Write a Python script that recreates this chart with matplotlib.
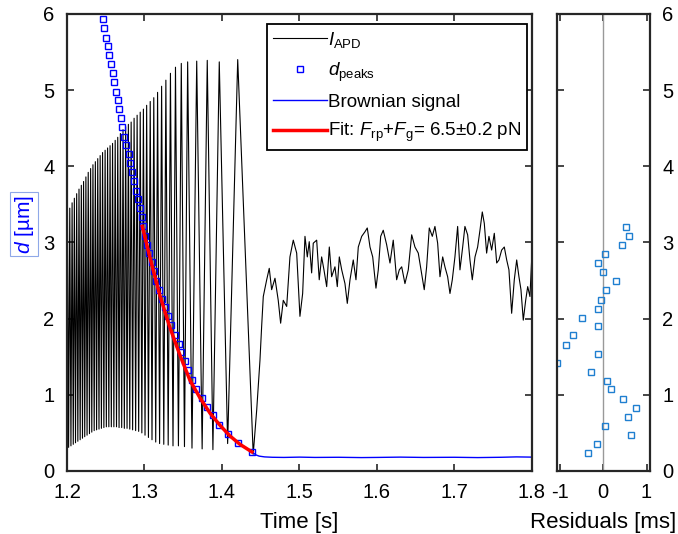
import numpy as np
import matplotlib
matplotlib.use("Agg")
import matplotlib.pyplot as plt

plt.rcParams['font.family'] = ['Liberation Sans', 'DejaVu Sans']
plt.rcParams['mathtext.fontset'] = 'custom'
plt.rcParams['mathtext.rm'] = 'Liberation Sans'
plt.rcParams['mathtext.it'] = 'Liberation Sans:italic'
plt.rcParams['axes.unicode_minus'] = False

# --- I_APD fringe extremes (time [s], signal) ---
peak_t = [1.2006, 1.2036, 1.2066, 1.2095, 1.2125, 1.2155, 1.2185, 1.2214, 1.2244, 1.2274,
          1.2305, 1.2335, 1.2366, 1.2397, 1.2428, 1.2459, 1.2492, 1.2524, 1.2556, 1.2588,
          1.2622, 1.2655, 1.2689, 1.2723, 1.2757, 1.2792, 1.2828, 1.2866, 1.2905, 1.2945,
          1.2986, 1.3028, 1.3074, 1.3120, 1.3169, 1.3221, 1.3276, 1.3335, 1.3400, 1.3475,
          1.3557, 1.3674, 1.3810, 1.3965, 1.4203]
peak_v = [3.39, 3.45, 3.52, 3.58, 3.64, 3.70, 3.75, 3.80, 3.86, 3.92,
          3.97, 4.02, 4.06, 4.10, 4.14, 4.18, 4.21, 4.24, 4.27, 4.30,
          4.34, 4.38, 4.43, 4.48, 4.52, 4.55, 4.58, 4.63, 4.67, 4.71,
          4.75, 4.80, 4.85, 4.90, 4.97, 5.05, 5.13, 5.22, 5.30, 5.35,
          5.37, 5.38, 5.39, 5.37, 5.40]
trough_t = [1.1991, 1.2021, 1.2051, 1.2081, 1.2110, 1.2140, 1.2170, 1.2200, 1.2229, 1.2259,
            1.2290, 1.2320, 1.2351, 1.2382, 1.2413, 1.2444, 1.2476, 1.2508, 1.2540, 1.2572,
            1.2605, 1.2639, 1.2672, 1.2706, 1.2740, 1.2775, 1.2810, 1.2847, 1.2886, 1.2925,
            1.2966, 1.3007, 1.3051, 1.3097, 1.3145, 1.3195, 1.3249, 1.3306, 1.3368, 1.3438,
            1.3516, 1.3613, 1.3744, 1.3883, 1.4073, 1.4403]
trough_v = [0.30, 0.31, 0.33, 0.35, 0.37, 0.39, 0.41, 0.43, 0.45, 0.47,
            0.49, 0.51, 0.53, 0.54, 0.55, 0.56, 0.57, 0.58, 0.58, 0.58,
            0.58, 0.58, 0.57, 0.57, 0.56, 0.56, 0.55, 0.54, 0.53, 0.52,
            0.50, 0.47, 0.44, 0.41, 0.38, 0.36, 0.35, 0.34, 0.33, 0.33,
            0.32, 0.30, 0.29, 0.28, 0.36, 0.22]

# --- I_APD after release (Brownian part) ---
free_t = [1.4448, 1.4490, 1.4512, 1.4533, 1.4577, 1.4610, 1.4641, 1.4684, 1.4726, 1.4757,
          1.4791, 1.4835, 1.4877, 1.4920, 1.4964, 1.5006, 1.5041, 1.5071, 1.5101, 1.5126,
          1.5157, 1.5178, 1.5222, 1.5255, 1.5286, 1.5316, 1.5351, 1.5385, 1.5415, 1.5458,
          1.5488, 1.5514, 1.5545, 1.5587, 1.5617, 1.5652, 1.5694, 1.5729, 1.5759, 1.5803,
          1.5845, 1.5875, 1.5910, 1.5945, 1.5987, 1.6017, 1.6048, 1.6081, 1.6125, 1.6168,
          1.6210, 1.6254, 1.6288, 1.6319, 1.6361, 1.6404, 1.6448, 1.6490, 1.6533, 1.6568,
          1.6610, 1.6641, 1.6675, 1.6714, 1.6748, 1.6783, 1.6813, 1.6848, 1.6877, 1.6912,
          1.6942, 1.6972, 1.7006, 1.7041, 1.7071, 1.7106, 1.7135, 1.7170, 1.7200, 1.7230,
          1.7265, 1.7299, 1.7329, 1.7359, 1.7385, 1.7415, 1.7445, 1.7480, 1.7514, 1.7545,
          1.7574, 1.7609, 1.7643, 1.7674, 1.7703, 1.7738, 1.7772, 1.7803, 1.7832, 1.7858,
          1.7888, 1.7919, 1.7945, 1.7974, 1.7996, 1.8000]
free_v = [0.80, 1.45, 1.90, 2.29, 2.51, 2.66, 2.38, 2.53, 2.24, 1.94,
          2.24, 2.16, 2.81, 3.03, 2.86, 2.03, 2.33, 3.08, 2.81, 3.01,
          2.60, 2.99, 3.03, 2.51, 2.81, 2.64, 2.42, 2.94, 2.55, 2.68,
          2.42, 2.81, 2.64, 2.46, 2.20, 2.51, 2.77, 2.51, 2.94, 3.08,
          3.14, 3.19, 2.94, 2.81, 2.40, 2.64, 3.08, 3.16, 2.97, 2.73,
          3.03, 2.51, 2.64, 2.68, 2.46, 2.64, 3.10, 2.94, 2.86, 2.64,
          2.38, 2.68, 3.19, 3.08, 3.21, 2.99, 2.55, 2.81, 2.68, 2.55,
          2.33, 2.51, 2.81, 3.21, 2.64, 2.94, 3.21, 3.10, 2.77, 2.51,
          2.81, 2.94, 3.16, 3.40, 3.25, 2.86, 3.08, 2.90, 3.12, 2.73,
          2.77, 2.90, 2.94, 2.77, 2.64, 2.07, 2.51, 2.77, 2.55, 2.38,
          1.98, 2.24, 2.42, 2.29, 2.77, 2.81]

# --- d_peaks (time [s], distance [um]) ---
dpk_t = [1.2461, 1.2481, 1.2503, 1.2525, 1.2546, 1.2568, 1.2590, 1.2610, 1.2632, 1.2654,
         1.2675, 1.2693, 1.2714, 1.2735, 1.2757, 1.2797, 1.2819, 1.2843, 1.2862, 1.2889,
         1.2917, 1.2939, 1.2963, 1.2983, 1.3009, 1.3036, 1.3062, 1.3093, 1.3123, 1.3155,
         1.3187, 1.3222, 1.3262, 1.3303, 1.3348, 1.3394, 1.3439, 1.3477, 1.3523, 1.3561,
         1.3613, 1.3668, 1.3738, 1.3812, 1.3884, 1.3959, 1.4077, 1.4206, 1.4387]
dpk_d = [5.93, 5.81, 5.69, 5.58, 5.46, 5.34, 5.22, 5.10, 4.98, 4.87,
         4.75, 4.63, 4.51, 4.39, 4.28, 4.16, 4.04, 3.92, 3.80, 3.68,
         3.57, 3.45, 3.33, 3.21, 3.09, 2.97, 2.86, 2.74, 2.62, 2.50,
         2.38, 2.26, 2.15, 2.03, 1.91, 1.79, 1.67, 1.56, 1.44, 1.32,
         1.20, 1.08, 0.96, 0.84, 0.73, 0.61, 0.49, 0.37, 0.25]

# --- Brownian signal (blue) ---
brown_t = [1.4387, 1.4440, 1.4480, 1.4550, 1.4650, 1.4800, 1.5000, 1.5200, 1.5500,
           1.5800, 1.6000, 1.6300, 1.6600, 1.7000, 1.7300, 1.7600, 1.7800, 1.8000]
brown_d = [0.25, 0.21, 0.195, 0.185, 0.18, 0.178, 0.182, 0.178, 0.18,
           0.176, 0.178, 0.182, 0.178, 0.18, 0.176, 0.18, 0.185, 0.182]

# --- Fit curve ---
fit_t = [1.2972, 1.3071, 1.3200, 1.3329, 1.3458, 1.3587, 1.3716, 1.3845, 1.3974,
         1.4103, 1.4232, 1.4387]
fit_d = [3.21, 2.80, 2.30, 1.88, 1.52, 1.19, 0.96, 0.76, 0.60, 0.46, 0.35, 0.25]

# --- Residuals [ms] vs distance [um] ---
res_r = [0.52, 0.59, 0.44, 0.05, -0.12, 0.01, 0.30, 0.07, -0.05, -0.12,
         -0.48, -0.12, -0.68, -0.85, -1.05, -0.12, -0.27, 0.09, 0.18, 0.46,
         0.75, 0.57, 0.04, 0.64, -0.13, -0.35]
res_d = [3.20, 3.09, 2.97, 2.85, 2.73, 2.61, 2.49, 2.37, 2.25, 2.13,
         2.01, 1.90, 1.78, 1.66, 1.42, 1.54, 1.30, 1.18, 1.07, 0.94,
         0.83, 0.71, 0.59, 0.47, 0.35, 0.23]

# assemble the APD trace
ext_t = np.array(peak_t + trough_t)
ext_v = np.array(peak_v + trough_v)
order = np.argsort(ext_t)
apd_t = np.concatenate([ext_t[order], free_t])
apd_v = np.concatenate([ext_v[order], free_v])

fig = plt.figure(figsize=(6.78, 5.34), dpi=100)
ax = fig.add_axes([0.0988, 0.118, 0.6858, 0.856])
ax2 = fig.add_axes([0.8215, 0.118, 0.1372, 0.856])

fs = 14.5
frame = '#262626'

ax.plot(apd_t, apd_v, color='k', lw=0.8, label=r'$I_{\mathrm{APD}}$')
ax.plot(dpk_t, dpk_d, 's', mfc='none', mec='#0000ff', ms=5, mew=1.0,
        label=r'$d_{\mathrm{peaks}}$')
ax.plot(brown_t, brown_d, color='#0000ff', lw=1.0, label='Brownian signal')
ax.plot(fit_t, fit_d, color='#ff0000', lw=2.5,
        label=r'Fit: $F_{\mathrm{rp}}$+$F_{\mathrm{g}}$= 6.5$\pm$0.2 pN')

ax.set_xlim(1.2, 1.8)
ax.set_ylim(0, 6)
ax.set_xticks(np.arange(1.2, 1.81, 0.1))
ax.set_xticklabels(['1.2', '1.3', '1.4', '1.5', '1.6', '1.7', '1.8'])
ax.set_yticks(range(7))
ax.tick_params(direction='in', top=True, right=True, labelsize=fs, length=5,
               width=1.2, color=frame, pad=9)
ax.set_xlabel('Time [s]', fontsize=16, labelpad=7)
for s in ax.spines.values():
    s.set_linewidth(1.6)
    s.set_color(frame)

leg = ax.legend(loc='upper right', bbox_to_anchor=(0.99, 0.977), fontsize=13.5,
                frameon=True, fancybox=False, edgecolor='k', framealpha=1,
                handlelength=2.9, handletextpad=0.05, labelspacing=0.55,
                borderpad=0.3, borderaxespad=0.0)
leg.get_frame().set_linewidth(1.3)

fig.text(0.036, 0.58, r'$d$ [µm]', rotation=90, color='#0000ff', fontsize=15,
         ha='center', va='center',
         bbox=dict(boxstyle='square,pad=0.12', fc='none', ec='#8fa8e8', lw=0.8))

# residual panel
ax2.axvline(0, color='#999999', lw=1.0)
ax2.plot(res_r, res_d, 's', mfc='none', mec='#1f7fd0', ms=5, mew=1.0)
ax2.set_xlim(-1.06, 1.08)
ax2.set_ylim(0, 6)
ax2.set_xticks([-1, 0, 1])
ax2.set_xticklabels(['-1', '0', '1'])
ax2.set_yticks(range(7))
ax2.tick_params(direction='in', top=True, left=True, right=True, labelleft=False,
                labelright=True, labelsize=fs, length=5, width=1.2, color=frame, pad=9)
ax2.set_xlabel('Residuals [ms]', fontsize=16, labelpad=7)
for s in ax2.spines.values():
    s.set_linewidth(1.6)
    s.set_color(frame)

fig.savefig('out.png', dpi=100)
